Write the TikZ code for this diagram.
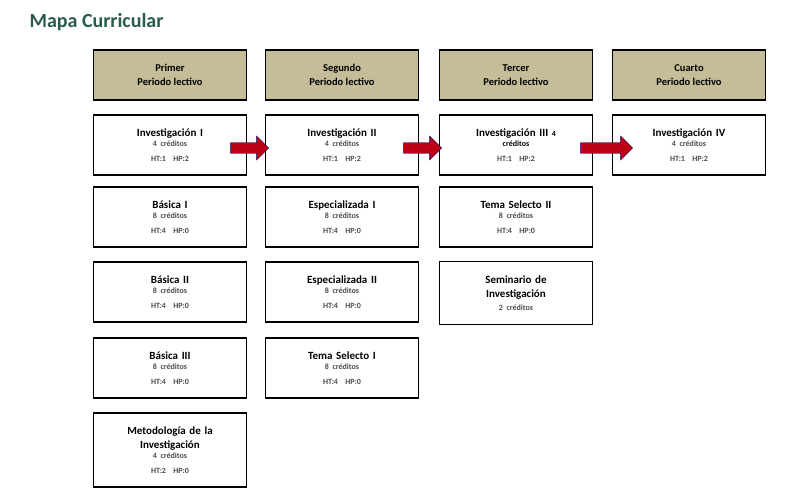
\documentclass[tikz,border=0pt]{standalone}
\usepackage{fontspec}
\setmainfont{Carlito}
\usetikzlibrary{shapes.arrows}
\definecolor{olive}{RGB}{196,189,151}
\definecolor{titlegreen}{RGB}{40,92,72}
\definecolor{arrowred}{RGB}{190,0,20}
\tikzset{
  period/.style={draw, line width=1.6pt, fill=olive, minimum width=153pt, minimum height=50pt, align=center, font=\fontsize{10.5}{14}\selectfont\bfseries},
  course/.style={draw, line width=1.6pt, fill=white, minimum width=153pt, minimum height=60pt, align=center, text width=145pt, font=\fontsize{11}{14.5}\selectfont\bfseries},
  link/.style={single arrow, fill=arrowred, draw=blue!40!black, line width=0.4pt, minimum height=38pt, minimum width=24pt, single arrow head extend=6pt, inner sep=4.5pt}
}
\newcommand{\cred}[2]{\\[-2pt]{\fontsize{8}{12}\selectfont\color{black!70}#1 créditos\\#2}}
\begin{document}
\begin{tikzpicture}[x=1pt,y=-1pt]
\useasboundingbox (0,0) rectangle (807,502);
\node[anchor=west, text=titlegreen, font=\fontsize{20}{22}\selectfont\bfseries] (title) at (26,22) {Mapa Curricular};
% periodos
\node[period] (p1) at (170,75) {Primer\\Periodo lectivo};
\node[period] (p2) at (342,75) {Segundo\\Periodo lectivo};
\node[period] (p3) at (516,75) {Tercer\\Periodo lectivo};
\node[period] (p4) at (689,75) {Cuarto\\Periodo lectivo};
% primer periodo
\node[course] (inv1) at (170,145) {Investigación I\cred{4}{HT:1~~HP:2}};
\node[course] (bas1) at (170,217) {Básica I\cred{8}{HT:4~~HP:0}};
\node[course] (bas2) at (170,292) {Básica II\cred{8}{HT:4~~HP:0}};
\node[course] (bas3) at (170,368) {Básica III\cred{8}{HT:4~~HP:0}};
\node[course, minimum height=74pt] (met) at (170,450) {Metodología de la\\Investigación\cred{4}{HT:2~~HP:0}};
% segundo periodo
\node[course] (inv2) at (342,145) {Investigación II\cred{4}{HT:1~~HP:2}};
\node[course] (esp1) at (342,217) {Especializada I\cred{8}{HT:4~~HP:0}};
\node[course] (esp2) at (342,292) {Especializada II\cred{8}{HT:4~~HP:0}};
\node[course] (tem1) at (342,368) {Tema Selecto I\cred{8}{HT:4~~HP:0}};
% tercer periodo
\node[course] (inv3) at (516,145) {Investigación III {\fontsize{8}{12}\selectfont 4}\\[-2pt]{\fontsize{8}{12}\selectfont créditos\\\color{black!70}HT:1~~HP:2}};
\node[course] (tem2) at (516,217) {Tema Selecto II\cred{8}{HT:4~~HP:0}};
\node[course, minimum height=63pt] (sem) at (516,293) {Seminario de\\Investigación\\[-2pt]{\fontsize{8}{12}\selectfont\color{black!70}2 créditos}};
% cuarto periodo
\node[course] (inv4) at (689,145) {Investigación IV\cred{4}{HT:1~~HP:2}};
% flechas
\node[link] (a1) at (247,148) {};
\node[link] (a2) at (420,148) {};
\node[link, minimum height=52pt] (a3) at (604,148) {};
\end{tikzpicture}
\end{document}
